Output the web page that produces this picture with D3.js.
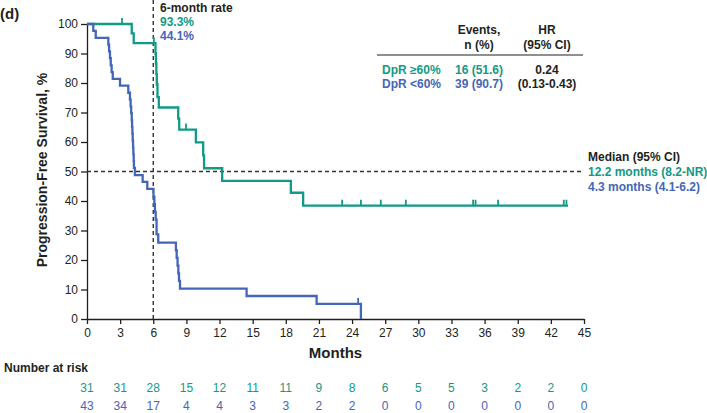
<!DOCTYPE html>
<html>
<head>
<meta charset="utf-8">
<script src="https://cdn.jsdelivr.net/npm/d3@7"></script>
<style>
  body { margin: 0; background: #fff; }
  svg { display: block; font-family: "Liberation Sans", Arial, sans-serif; }
</style>
</head>
<body>
<div id="main"></div>
<script>
const width = 707;
const height = 413;

const green = "#119a86";
const blue = "#4466b8";
const ink = "#231f20";

// DpR >=60% (step times in months, survival %)
const highTimes = [0, 4.05, 4.23, 6.2, 6.24, 6.28, 6.32, 6.38, 6.5, 8.26, 8.35, 9.86, 10.52, 10.6, 12.24, 18.46, 19.57, 43.56];
const highSurv = [100, 96.8, 93.5, 90.0, 86.7, 83.0, 79.5, 75.2, 71.7, 67.9, 64.2, 59.9, 55.5, 51.1, 46.8, 42.8, 38.4, 38.4];
const highCensorTimes = [3.17, 6.06, 8.96, 23.1, 24.8, 26.6, 28.87, 34.96, 35.18, 37.22, 43.17, 43.41];
const highCensorSurv = [100, 93.5, 64.2, 38.4, 38.4, 38.4, 38.4, 38.4, 38.4, 38.4, 38.4, 38.4];

// DpR <60%
const lowTimes = [0, 0.57, 0.79, 1.93, 2.0, 2.08, 2.15, 2.23, 2.33, 2.99, 3.74, 3.89, 3.95, 4.0, 4.05, 4.08, 4.11, 4.14, 4.17, 4.2, 4.23, 4.25, 4.34, 5.04, 5.46, 6.02, 6.1, 6.15, 6.22, 6.3, 6.45, 8.05, 8.12, 8.2, 8.27, 8.33, 8.42, 14.45, 20.79, 24.8, 24.8];
const lowSurv = [100, 97.7, 95.3, 93.0, 90.7, 88.4, 86.0, 83.7, 81.4, 79.1, 76.7, 74.4, 72.1, 69.8, 67.4, 65.1, 62.8, 60.5, 58.1, 55.8, 53.5, 51.2, 48.8, 46.5, 44.1, 41.5, 38.9, 36.3, 33.7, 28.7, 25.9, 23.3, 20.7, 18.1, 15.5, 12.9, 10.3, 7.8, 5.1, 5.1, 0];
const lowCensorTimes = [24.55];
const lowCensorSurv = [5.1];

const xTicks = d3.range(0, 46, 3);
const yTicks = d3.range(0, 101, 10);
const riskHigh = [31, 31, 28, 15, 12, 11, 11, 9, 8, 6, 5, 5, 3, 2, 2, 0];
const riskLow = [43, 34, 17, 4, 4, 3, 3, 2, 2, 0, 0, 0, 0, 0, 0, 0];

const x = d3.scaleLinear().domain([0, 45]).range([87, 584]);
const y = d3.scaleLinear().domain([0, 100]).range([319, 24]);

const svg = d3.select("#main").append("svg").attr("width", width).attr("height", height);

// axes
const xAxis = svg.append("g")
  .attr("transform", "translate(0,319)")
  .call(d3.axisBottom(x).tickValues(xTicks).tickSize(5).tickSizeOuter(0).tickPadding(4));
const yAxis = svg.append("g")
  .attr("transform", "translate(87,0)")
  .call(d3.axisLeft(y).tickValues(yTicks).tickSize(6).tickSizeOuter(0).tickPadding(3));
[xAxis, yAxis].forEach((a) => {
  a.selectAll("path, line").attr("stroke", ink).attr("stroke-width", 1.3);
  a.selectAll("text").attr("fill", ink).style("font-size", "12px").style("font-family", "'Liberation Sans', Arial, sans-serif");
});

// reference lines
svg.append("line")
  .attr("x1", x(0)).attr("x2", 584).attr("y1", y(50)).attr("y2", y(50))
  .attr("stroke", "#333").attr("stroke-width", 1.4).attr("stroke-dasharray", "4,3");
svg.append("line")
  .attr("x1", x(6)).attr("x2", x(6)).attr("y1", 319).attr("y2", 0)
  .attr("stroke", "#333").attr("stroke-width", 1.4).attr("stroke-dasharray", "4,3");

// curves
const line = d3.line().x((d) => x(d[0])).y((d) => y(d[1])).curve(d3.curveStepAfter);
const drawCurve = (times, surv, color) => {
  svg.append("path")
    .datum(times.map((t, i) => [t, surv[i]]))
    .attr("d", line)
    .attr("fill", "none")
    .attr("stroke", color)
    .attr("stroke-width", 2.3);
};
const drawCensor = (times, surv, color) => {
  svg.append("g").selectAll("line")
    .data(times.map((t, i) => [t, surv[i]]))
    .enter()
    .append("line")
    .attr("x1", (d) => x(d[0])).attr("x2", (d) => x(d[0]))
    .attr("y1", (d) => y(d[1])).attr("y2", (d) => y(d[1]) - 6)
    .attr("stroke", color).attr("stroke-width", 1.8);
};
drawCurve(highTimes, highSurv, green);
drawCurve(lowTimes, lowSurv, blue);
drawCensor(highCensorTimes, highCensorSurv, green);
drawCensor(lowCensorTimes, lowCensorSurv, blue);

// text helper
const txt = (s, px, py, opts = {}) => svg.append("text")
  .attr("x", px).attr("y", py)
  .attr("fill", opts.fill || ink)
  .attr("text-anchor", opts.anchor || "start")
  .style("font-size", (opts.size || 12) + "px")
  .style("font-weight", opts.weight || "bold")
  .text(s);

txt("(d)", 0, 19, { size: 15 });
txt("6-month rate", 160, 12, { size: 12 });
txt("93.3%", 160, 26, { size: 12, fill: green });
txt("44.1%", 160, 40, { size: 12, fill: blue });

// legend table
txt("Events,", 479, 34, { anchor: "middle" });
txt("n (%)", 479, 49, { anchor: "middle" });
txt("HR", 547, 34, { anchor: "middle" });
txt("(95% CI)", 547, 49, { anchor: "middle" });
svg.append("line").attr("x1", 377).attr("x2", 583).attr("y1", 55).attr("y2", 55)
  .attr("stroke", ink).attr("stroke-width", 1.2);
txt("DpR ≥60%", 382, 74, { fill: green });
txt("DpR <60%", 382, 88, { fill: blue });
txt("16 (51.6)", 479, 74, { anchor: "middle", fill: green });
txt("39 (90.7)", 479, 88, { anchor: "middle", fill: blue });
txt("0.24", 547, 74, { anchor: "middle" });
txt("(0.13-0.43)", 547, 88, { anchor: "middle" });

// median
txt("Median (95% CI)", 588, 161);
txt("12.2 months (8.2-NR)", 588, 176, { fill: green });
txt("4.3 months (4.1-6.2)", 588, 191, { fill: blue });

// axis titles
txt("Months", (x(0) + x(45)) / 2, 358, { anchor: "middle", size: 15 });
svg.append("text")
  .attr("transform", "translate(47,170) rotate(-90)")
  .attr("text-anchor", "middle")
  .attr("fill", ink)
  .style("font-size", "14px")
  .style("font-weight", "bold")
  .text("Progression-Free Survival, %");

// number at risk
txt("Number at risk", 4, 372, { size: 12 });
svg.append("g").selectAll("text").data(riskHigh).enter().append("text")
  .attr("x", (d, i) => x(xTicks[i])).attr("y", 392)
  .attr("text-anchor", "middle").attr("fill", green).style("font-size", "12px")
  .text((d) => d);
svg.append("g").selectAll("text").data(riskLow).enter().append("text")
  .attr("x", (d, i) => x(xTicks[i])).attr("y", 410)
  .attr("text-anchor", "middle").attr("fill", blue).style("font-size", "12px")
  .text((d) => d);
</script>
</body>
</html>
